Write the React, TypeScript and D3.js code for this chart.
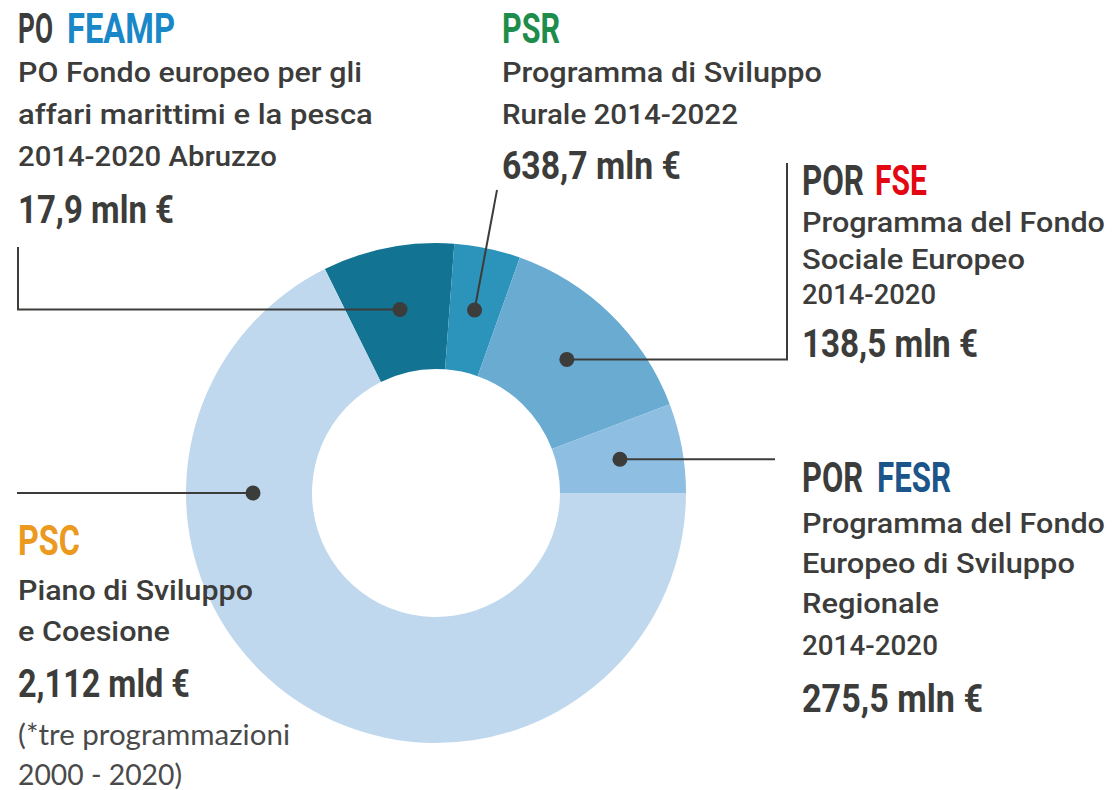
import React from "react";
import * as d3 from "d3";

// ---- data ----
const categories = ["FEAMP", "PSR", "FSE", "FESR", "PSC"];
// visible share of the ring (degrees of arc as drawn)
const shares = [30.6, 15.4, 49.6, 20.8, 243.6];
const amounts = ["17,9 mln €", "638,7 mln €", "138,5 mln €", "275,5 mln €", "2,112 mld €"];
const prefixes = ["PO", "", "POR", "POR", ""];
const descriptions = [
  ["PO Fondo europeo per gli", "affari marittimi e la pesca", "2014-2020 Abruzzo"],
  ["Programma di Sviluppo", "Rurale 2014-2022"],
  ["Programma del Fondo", "Sociale Europeo", "2014-2020"],
  ["Programma del Fondo", "Europeo di Sviluppo", "Regionale", "2014-2020"],
  ["Piano di Sviluppo", "e Coesione"],
];
const notes = [[], [], [], [], ["(*tre programmazioni", "2000 - 2020)"]];

// ---- styles / layout ----
const W = 1117, H = 790;
const CX = 436, CY = 493, R_OUT = 250, R_IN = 124;
const START_DEG = -26.4;
const sliceColors = ["#137393", "#2c93ba", "#6aabd2", "#8ebee1", "#c0d8ee"];
const keyColors = ["#1a87c8", "#1e8c4a", "#e30613", "#1c5589", "#eb9a1f"];
const TEXT = "#3c3c3b";
const FONT = "Roboto";
const NOTE_FONT = "Lato";

type Layout = {
  x: number; title: number; body: number[]; amount: number; note: number[];
  wPrefix: number; keyX: number; wKey: number; wBody: number[]; wAmount: number; wNote: number[];
  line: [number, number][]; dotAngle?: number; dotR?: number; horiz: boolean;
};
const layouts: Layout[] = [
  { x: 18, title: 42.5, body: [81.5, 123.5, 166], amount: 223, note: [],
    wPrefix: 35, keyX: 67, wKey: 108, wBody: [344, 355, 259], wAmount: 156, wNote: [],
    line: [[18, 307], [18, 247]], horiz: true },
  { x: 502, title: 42.5, body: [81.5, 124], amount: 178.5, note: [],
    wPrefix: 0, keyX: 502, wKey: 58, wBody: [320, 236], wAmount: 179, wNote: [],
    line: [[497, 190]], horiz: false },
  { x: 802, title: 195, body: [231.7, 269, 304], amount: 356.7, note: [],
    wPrefix: 62, keyX: 875, wKey: 52, wBody: [303, 223, 134], wAmount: 176, wNote: [],
    line: [[787, 359], [787, 163]], horiz: true },
  { x: 802, title: 491.7, body: [532.7, 572.7, 613.3, 655], amount: 711.7, note: [],
    wPrefix: 61, keyX: 877, wKey: 74, wBody: [303, 273, 137, 136], wAmount: 181, wNote: [],
    line: [[775, 460]], horiz: true },
  { x: 18, title: 555, body: [600, 640.7], amount: 696.7, note: [745, 785],
    wPrefix: 0, keyX: 18, wKey: 62, wBody: [235, 152], wAmount: 172, wNote: [272, 164],
    line: [[17, 495]], dotAngle: -90, dotR: 183, horiz: true },
];

let ctx: CanvasRenderingContext2D | null = null;
function measure(text: string, size: number, weight: number, family: string) {
  if (!ctx) ctx = document.createElement("canvas").getContext("2d");
  if (!ctx) return text.length * size * 0.5;
  ctx.font = `${weight} ${size}px ${family}`;
  return ctx.measureText(text).width;
}

function FitText(props: {
  x: number; y: number; text: string; width: number; size: number; weight: number;
  family?: string; fill?: string;
}) {
  const fam = props.family || FONT;
  const natural = measure(props.text, props.size, props.weight, fam);
  const sx = props.width / natural;
  return (
    <text transform={`translate(${props.x},${props.y}) scale(${sx},1)`}
      fontSize={props.size} fontWeight={props.weight} fontFamily={fam}
      fill={props.fill || TEXT}>{props.text}</text>
  );
}

export default function App() {
  const rad = (d: number) => (d * Math.PI) / 180;
  const pie = d3.pie<number>().sort(null).value((d) => d)
    .startAngle(rad(START_DEG)).endAngle(rad(START_DEG) + 2 * Math.PI);
  const arcs = pie(shares);
  const arc = d3.arc<d3.PieArcDatum<number>>().innerRadius(R_IN).outerRadius(R_OUT);

  return (
    <svg width={W} height={H} style={{ position: "absolute", left: 0, top: 0, background: "#fff" }}>
      <g transform={`translate(${CX},${CY})`}>
        {arcs.map((a, i) => (
          <path key={categories[i]} d={arc(a) || ""} fill={sliceColors[i]} />
        ))}
      </g>
      {arcs.map((a, i) => {
        const L = layouts[i];
        let dot: [number, number];
        if (L.dotAngle !== undefined) {
          const p = d3.pointRadial(rad(L.dotAngle), L.dotR || 187);
          dot = [CX + p[0], CY + p[1]];
        } else {
          const c = arc.centroid(a);
          dot = [CX + c[0], CY + c[1]];
        }
        const pts: [number, number][] = [dot];
        L.line.forEach((p, k) => {
          if (k === 0 && L.horiz) pts.push([p[0], dot[1]]);
          else pts.push(p);
        });
        const path = d3.line()(pts) || "";
        return (
          <g key={categories[i]}>
            <path d={path} fill="none" stroke={TEXT} strokeWidth={2} />
            <circle cx={dot[0]} cy={dot[1]} r={7.5} fill={TEXT} />
          </g>
        );
      })}
      {categories.map((c, i) => {
        const L = layouts[i];
        return (
          <g key={c}>
            {prefixes[i] && (
              <FitText x={L.x} y={L.title} text={prefixes[i]} width={L.wPrefix} size={43} weight={700} />
            )}
            <FitText x={L.keyX} y={L.title} text={c} width={L.wKey} size={43} weight={700} fill={keyColors[i]} />
            {descriptions[i].map((t, k) => (
              <FitText key={k} x={L.x} y={L.body[k]} text={t} width={L.wBody[k]} size={27} weight={500} />
            ))}
            <FitText x={L.x} y={L.amount} text={amounts[i]} width={L.wAmount} size={38} weight={700} />
            {notes[i].map((t, k) => (
              <FitText key={"n" + k} x={L.x} y={L.note[k]} text={t} width={L.wNote[k]} size={29}
                weight={400} family={NOTE_FONT} fill="#4a4a4a" />
            ))}
          </g>
        );
      })}
    </svg>
  );
}
